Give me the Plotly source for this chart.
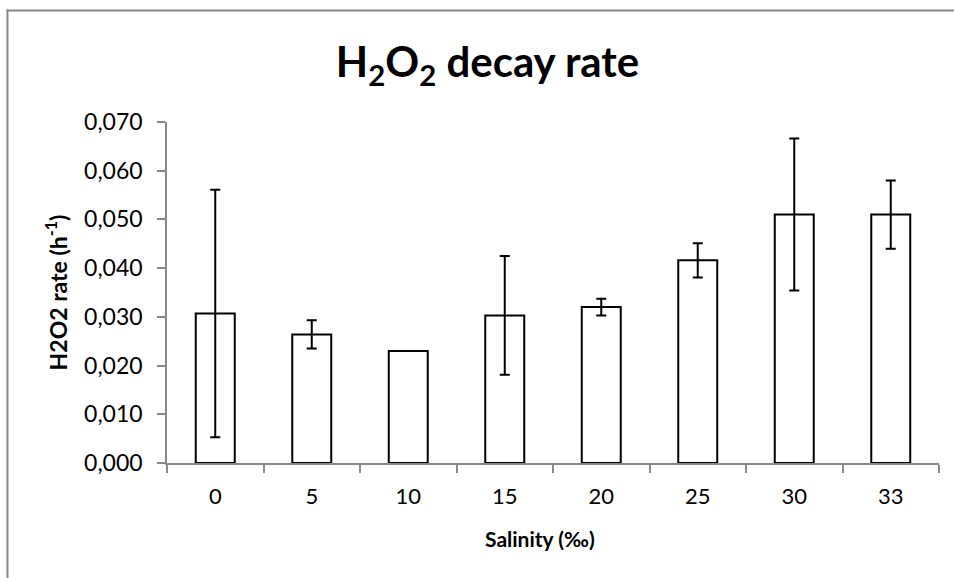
import plotly.graph_objects as go

salinity = ["0", "5", "10", "15", "20", "25", "30", "33"]
rate = [0.0307, 0.0264, 0.0230, 0.0303, 0.0320, 0.0416, 0.0510, 0.0510]
rate_err = [0.0254, 0.0029, 0.0, 0.0122, 0.0017, 0.0035, 0.0156, 0.0070]
y_ticks = [0.0, 0.01, 0.02, 0.03, 0.04, 0.05, 0.06, 0.07]

W, H = 954, 578
L, R, T, B = 167, 954 - 939, 122, 578 - 463
FONT = "Lato"

fig = go.Figure(go.Bar(
    x=salinity, y=rate,
    marker=dict(color="white", line=dict(color="black", width=2)),
    error_y=dict(type="data", array=rate_err, visible=True,
                 color="black", thickness=2, width=5),
    width=0.404,
))

pw = W - L - R
ph = H - T - B
def px_to_x(p):
    return (p - L) / pw
def py_to_y(p):
    return (H - B - p) / ph

fig.update_layout(
    width=W, height=H,
    margin=dict(l=L, r=R, t=T, b=B, pad=0),
    paper_bgcolor="white", plot_bgcolor="white",
    separators=",.",
    showlegend=False,
    font=dict(family=FONT, color="black", size=22),
    title=dict(text="<b>H<sub>2</sub>O<sub>2</sub> decay rate</b>",
               x=487.5 / W, xref="container", xanchor="center",
               y=1 - 62 / H, yref="container", yanchor="middle",
               font=dict(family=FONT, size=42, color="black")),
    xaxis=dict(
        type="category", tickson="boundaries", ticks="outside", ticklen=8,
        tickcolor="#888888", tickwidth=1.5,
        showline=True, linecolor="#888888", linewidth=1.5,
        showgrid=False, zeroline=False,
        ticklabelstandoff=13,
        tickfont=dict(size=22, family=FONT),
    ),
    yaxis=dict(
        range=[0, 0.07], tickvals=y_ticks, tickformat=".3f",
        ticks="outside", ticklen=8, tickcolor="#888888", tickwidth=1.5,
        showline=True, linecolor="#888888", linewidth=1.5,
        showgrid=False, zeroline=False,
        ticklabelstandoff=10,
        tickfont=dict(size=23, family=FONT),
        title=dict(text="<b>H2O2 rate (h<sup>-1</sup>)</b>", font=dict(size=23, family=FONT), standoff=10),
    ),
)

fig.add_annotation(text="<b>Salinity (‰)</b>", xref="paper", yref="paper",
                   x=px_to_x(540), y=py_to_y(538), xanchor="center", yanchor="middle",
                   showarrow=False, font=dict(size=21, family=FONT, color="black"))

# outer chart frame (top and left edges) as thin filled bands
fig.add_shape(type="rect", xref="paper", yref="paper", layer="below",
              x0=px_to_x(6.5), x1=px_to_x(W), y0=py_to_y(9.5), y1=py_to_y(11.5),
              line=dict(width=0), fillcolor="#888888")
fig.add_shape(type="rect", xref="paper", yref="paper", layer="below",
              x0=px_to_x(6.5), x1=px_to_x(8.5), y0=py_to_y(9.5), y1=py_to_y(H),
              line=dict(width=0), fillcolor="#888888")

fig.write_html("out.html", config={"displayModeBar": False},
               post_script="document.body.style.margin='0px';document.body.style.overflow='hidden';"
                           "document.documentElement.style.overflow='hidden';")
